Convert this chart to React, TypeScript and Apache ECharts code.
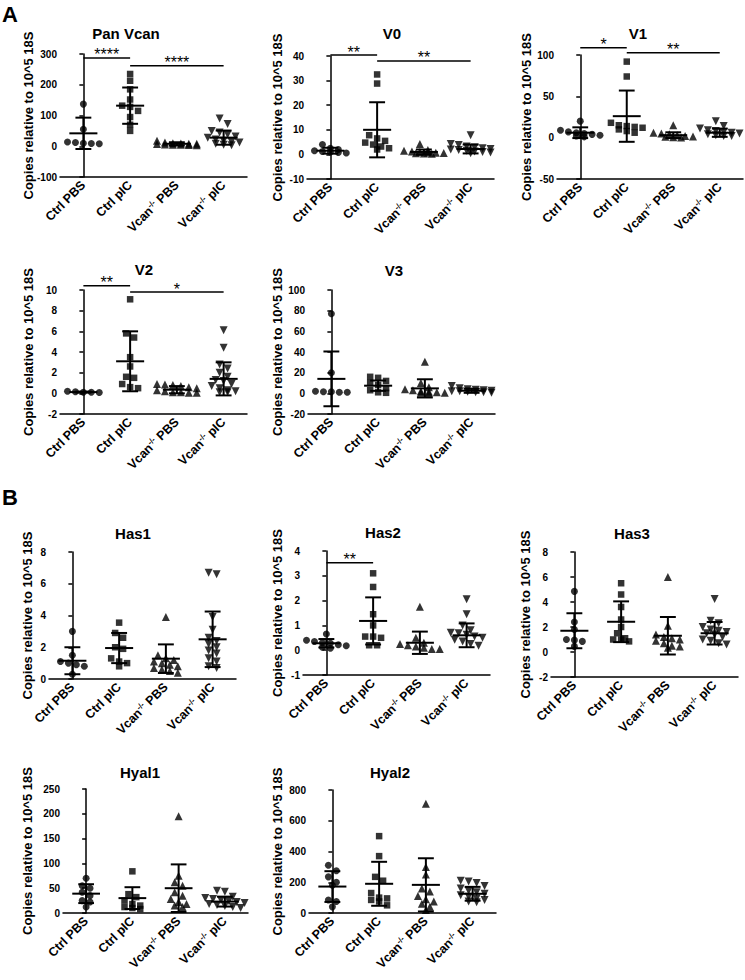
import React, { useEffect, useRef } from "react";
import * as echarts from "echarts";

const FONT = '"Liberation Sans", Arial, sans-serif';

const groups = ["Ctrl PBS", "Ctrl pIC", "Vcan-/- PBS", "Vcan-/- pIC"];

// ---------- Pan Vcan ----------
const panVcanPoints = [
  [137, 55, 14, 12, 10, 9, 8],
  [235, 213, 185, 152, 132, 128, 115, 95, 70, 50],
  [18, 12, 10, 9, 8, 8, 7, 6, 5, 5, 4, 3],
  [90, 72, 50, 45, 38, 32, 28, 22, 18, 15, 12, 8, 5, 3],
];
const panVcanMean = [42, 132, 8, 28];
const panVcanSD = [51, 59, 5, 23];
const panVcanBrackets = [
  { from: 0, to: 1, y: 287, label: "****" },
  { from: 1, to: 3, y: 262, label: "****" },
];

// ---------- V0 ----------
const v0Points = [
  [4, 2.5, 2, 1.5, 1.2, 1, 0.8, 0.6],
  [32.5, 28.8, 7.8, 6.5, 5.5, 4.8, 4, 3.2, 2.5, 2],
  [4.2, 1.8, 1.5, 1.2, 1, 0.8, 0.7, 0.6, 0.5, 0.4, 0.3],
  [7.8, 4.2, 3.8, 3.2, 2.8, 2.5, 2.2, 2, 1.8, 1.5, 1.2, 1, 0.8, 0.5],
];
const v0Mean = [1.5, 10, 1, 2.2];
const v0SD = [1.2, 11.2, 1, 1.8];
const v0Brackets = [
  { from: 0, to: 1, y: 40.4, label: "**" },
  { from: 1, to: 3, y: 38, label: "**" },
];

// ---------- V1 ----------
const v1Points = [
  [20, 9, 7, 6, 5, 4, 3, 2, 1],
  [92, 74, 18, 15, 14, 13, 12, 10, 8, 6],
  [15, 6, 5, 4, 3, 2, 1.5, 1, 0.5, 0.3],
  [20, 14, 11, 9, 8, 7, 6, 5, 4, 3, 2, 2],
];
const v1Mean = [6, 26, 3, 6];
const v1SD = [6.5, 31, 3.5, 5];
const v1Brackets = [
  { from: 0, to: 1, y: 108.9, label: "*" },
  { from: 1, to: 3, y: 102.8, label: "**" },
];

// ---------- V2 ----------
const v2Points = [
  [0.2, 0.15, 0.1, 0.1, 0.08],
  [9.1, 5.8, 5.4, 3.5, 2.6, 1.6, 1.5, 0.9, 0.6, 0.5],
  [0.9, 0.85, 0.8, 0.7, 0.6, 0.5, 0.3, 0.2, 0.1, 0.05, 0.05, 0.1],
  [6.1, 4.4, 2.8, 2.4, 2.0, 1.6, 1.3, 1.2, 0.9, 0.7, 0.5, 0.3, 0.2, 0.1, 0.1],
];
const v2Mean = [0.12, 3.1, 0.35, 1.4];
const v2SD = [0.05, 2.9, 0.35, 1.6];
const v2Brackets = [
  { from: 0, to: 1, y: 10.42, label: "**" },
  { from: 1, to: 3, y: 9.8, label: "*" },
];

// ---------- V3 ----------
const v3Points = [
  [77, 20, 1.5, 1.5, 1, 1, 2],
  [16, 15, 12, 10, 8, 5, 3, 1, 0.5],
  [30.5, 10, 6, 4, 3, 2, 1.5, 1, 0.5, 0.5, 0.2],
  [7, 5, 4, 3.5, 3, 2.5, 2, 2, 1.5, 1, 1, 0.5],
];
const v3Mean = [14, 7.4, 4.8, 2.5];
const v3SD = [26.5, 5, 8.8, 2];

// ---------- Has1 ----------
const has1Points = [
  [3.0, 1.5, 1.1, 1.0, 0.9, 0.8, 0.3],
  [3.55, 2.9, 2.6, 2.0, 1.9, 1.3, 1.1, 1.0, 0.8],
  [3.9, 1.5, 1.3, 1.2, 1.1, 1.0, 0.9, 0.8, 0.7, 0.6, 0.5, 0.4],
  [6.7, 6.6, 3.9, 3.1, 2.6, 2.4, 2.2, 2.0, 1.8, 1.6, 1.3, 1.1, 0.8, 0.7],
];
const has1Mean = [1.15, 1.95, 1.28, 2.5];
const has1SD = [0.85, 0.95, 0.9, 1.75];

// ---------- Has2 ----------
const has2Points = [
  [0.65, 0.4, 0.35, 0.3, 0.28, 0.22, 0.18, 0.12, 0.08],
  [3.1, 2.55, 1.45, 1.0, 0.55, 0.55, 0.5, 0.2, 0.2],
  [1.75, 0.5, 0.3, 0.25, 0.2, 0.15, 0.1, 0.05, 0.05],
  [2.05, 1.45, 1.0, 0.8, 0.7, 0.68, 0.62, 0.55, 0.5, 0.42, 0.35, 0.25, 0.18],
];
const has2Mean = [0.28, 1.18, 0.3, 0.6];
const has2SD = [0.17, 0.95, 0.45, 0.48];
const has2Brackets = [{ from: 0, to: 1, y: 3.53, label: "**" }];

// ---------- Has3 ----------
const has3Points = [
  [4.85, 2.4, 1.8, 1.0, 0.95, 0.85, 0.45],
  [5.5, 4.6, 3.6, 2.6, 2.0, 1.5, 1.1, 1.0, 1.0, 0.85],
  [6.0, 2.1, 1.4, 1.2, 1.1, 1.0, 0.9, 0.7, 0.5, 0.45, 0.35],
  [4.25, 2.5, 2.3, 2.0, 1.8, 1.7, 1.6, 1.5, 1.4, 1.2, 1.0, 0.9, 0.7, 0.6],
];
const has3Mean = [1.7, 2.42, 1.3, 1.5];
const has3SD = [1.4, 1.63, 1.5, 0.9];

// ---------- Hyal1 ----------
const hyal1Points = [
  [70, 55, 50, 42, 35, 25, 22, 12],
  [84, 38, 32, 25, 18, 15, 12, 10, 8],
  [195, 75, 62, 55, 42, 35, 28, 22, 18, 15, 12],
  [45, 43, 33, 30, 28, 26, 24, 22, 20, 18, 16, 14, 12, 10],
];
const hyal1Mean = [39, 30, 50, 23];
const hyal1SD = [19, 22, 48, 10];

// ---------- Hyal2 ----------
const hyal2Points = [
  [310, 275, 235, 200, 180, 85, 75, 40],
  [500, 370, 235, 210, 130, 100, 95, 85, 75, 50],
  [710, 300, 250, 160, 140, 110, 90, 75, 60, 40, 20],
  [210, 205, 195, 175, 160, 145, 135, 125, 115, 105, 95, 85, 75, 70],
];
const hyal2Mean = [172, 190, 183, 125];
const hyal2SD = [100, 143, 173, 45];

// y-axis ranges [min, max, interval]
const panVcanAxis = [-100, 300, 100];
const v0Axis = [-10, 40, 10];
const v1Axis = [-50, 100, 50];
const v2Axis = [-2, 10, 2];
const v3Axis = [-20, 100, 20];
const has1Axis = [0, 8, 2];
const has2Axis = [-1, 4, 1];
const has3Axis = [-2, 8, 2];
const hyal1Axis = [0, 250, 50];
const hyal2Axis = [0, 800, 200];

const yName = "Copies relative to 10^5 18S";

type Panel = {
  title: string;
  points: number[][];
  mean: number[];
  sd: number[];
  axis: number[];
  brackets: { from: number; to: number; y: number; label: string }[];
  left: number; top: number; width: number; height: number;
  titleX: number; titleY: number; yNameX: number;
};

const panels: Panel[] = [
  { title: "Pan Vcan", points: panVcanPoints, mean: panVcanMean, sd: panVcanSD, axis: panVcanAxis, brackets: panVcanBrackets,
    left: 60, top: 54, width: 187, height: 123, titleX: 126, titleY: 33, yNameX: 28 },
  { title: "V0", points: v0Points, mean: v0Mean, sd: v0SD, axis: v0Axis, brackets: v0Brackets,
    left: 307, top: 56, width: 187, height: 123, titleX: 392, titleY: 33, yNameX: 277 },
  { title: "V1", points: v1Points, mean: v1Mean, sd: v1SD, axis: v1Axis, brackets: v1Brackets,
    left: 557, top: 55, width: 186, height: 124, titleX: 638, titleY: 33, yNameX: 526 },
  { title: "V2", points: v2Points, mean: v2Mean, sd: v2SD, axis: v2Axis, brackets: v2Brackets,
    left: 60, top: 290, width: 187, height: 124, titleX: 144, titleY: 269, yNameX: 28 },
  { title: "V3", points: v3Points, mean: v3Mean, sd: v3SD, axis: v3Axis, brackets: [],
    left: 308, top: 290, width: 187, height: 124, titleX: 394, titleY: 270, yNameX: 277 },
  { title: "Has1", points: has1Points, mean: has1Mean, sd: has1SD, axis: has1Axis, brackets: [],
    left: 49, top: 552, width: 187, height: 127, titleX: 133, titleY: 533, yNameX: 27 },
  { title: "Has2", points: has2Points, mean: has2Mean, sd: has2SD, axis: has2Axis, brackets: has2Brackets,
    left: 303, top: 551, width: 187, height: 124, titleX: 383, titleY: 532, yNameX: 277 },
  { title: "Has3", points: has3Points, mean: has3Mean, sd: has3SD, axis: has3Axis, brackets: [],
    left: 551, top: 552, width: 187, height: 125, titleX: 632, titleY: 533, yNameX: 525 },
  { title: "Hyal1", points: hyal1Points, mean: hyal1Mean, sd: hyal1SD, axis: hyal1Axis, brackets: [],
    left: 63, top: 789, width: 185, height: 124, titleX: 140, titleY: 772, yNameX: 27 },
  { title: "Hyal2", points: hyal2Points, mean: hyal2Mean, sd: hyal2SD, axis: hyal2Axis, brackets: [],
    left: 309, top: 790, width: 187, height: 123, titleX: 390, titleY: 772, yNameX: 277 },
];

const symbols = ["circle", "rect", "triangle", "triangle"];
const symbolRot = [0, 0, 0, 180];
const symbolSizes = [7, 6.5, 8, 8];

// spread points horizontally like a column scatter (rows of close values)
function swarm(values: number[], gi: number, range: number, plotH: number) {
  const thr = (6 * range) / plotH;
  const sorted = [...values].sort((a, b) => b - a);
  const rows: number[][] = [];
  let cur: number[] = [];
  for (const v of sorted) {
    if (cur.length && (cur[0] - v > thr || cur.length >= 6)) {
      rows.push(cur);
      cur = [];
    }
    cur.push(v);
  }
  if (cur.length) rows.push(cur);
  const out: number[][] = [];
  rows.forEach((r) =>
    r.forEach((v, k) => out.push([gi + (k - (r.length - 1) / 2) * 0.17, v]))
  );
  return out;
}

function labelFmt(v: string) {
  if (v.startsWith("Vcan-/-")) {
    const rest = v.slice(7);
    return `{a|Vcan}{s|-/-}{a|${rest}}`;
  }
  return `{a|${v}}`;
}

export default function App() {
  const ref = useRef<HTMLDivElement>(null);
  useEffect(() => {
    if (!ref.current) return;
    const chart = echarts.init(ref.current, undefined, { renderer: "svg" });
    const grid: any[] = [];
    const xAxis: any[] = [];
    const yAxis: any[] = [];
    const series: any[] = [];
    const graphic: any[] = [];

    panels.forEach((p, pi) => {
      grid.push({ left: p.left, top: p.top, width: p.width, height: p.height });
      xAxis.push({
        type: "category",
        gridIndex: pi,
        data: groups,
        boundaryGap: true,
        axisLine: { onZero: false, lineStyle: { color: "#000", width: 1.5 } },
        axisTick: { alignWithLabel: true, length: 4, lineStyle: { color: "#000", width: 1.5 } },
        axisLabel: {
          interval: 0,
          rotate: 45,
          margin: 6,
          formatter: labelFmt,
          rich: {
            a: { fontSize: 12.5, fontWeight: "bold", fontFamily: FONT, color: "#000", lineHeight: 14 },
            s: { fontSize: 8, fontWeight: "bold", fontFamily: FONT, color: "#000", verticalAlign: "top", lineHeight: 8 },
          },
        },
        splitLine: { show: false },
      });
      xAxis.push({
        type: "value",
        gridIndex: pi,
        min: -0.5,
        max: 3.5,
        show: false,
        splitLine: { show: false },
      });
      const [mn, mx, iv] = p.axis;
      yAxis.push({
        type: "value",
        gridIndex: pi,
        min: mn,
        max: mx,
        interval: iv,
        axisLine: { show: true, lineStyle: { color: "#000", width: 1.5 } },
        axisTick: { show: true, length: 4, lineStyle: { color: "#000", width: 1.5 } },
        axisLabel: { fontSize: 10, fontWeight: "bold", fontFamily: FONT, color: "#000", margin: 3 },
        splitLine: { show: false },
      });
      const range = mx - mn;
      p.points.forEach((vals, gi) => {
        series.push({
          type: "scatter",
          name: `${p.title} ${groups[gi]}`,
          xAxisIndex: pi * 2 + 1,
          yAxisIndex: pi,
          symbol: symbols[gi],
          symbolRotate: symbolRot[gi],
          symbolSize: symbolSizes[gi],
          itemStyle: { color: "#000" },
          data: swarm(vals, gi, range, p.height),
          z: 2,
          silent: true,
        });
      });
      series.push({
        type: "custom",
        xAxisIndex: pi * 2 + 1,
        yAxisIndex: pi,
        z: 3,
        silent: true,
        data: p.mean.map((m, gi) => [gi, m, p.sd[gi]]),
        renderItem: (params: any, api: any) => {
          const x = api.value(0);
          const m = api.value(1);
          const s = api.value(2);
          const top = api.coord([x, m + s]);
          const bot = api.coord([x, m - s]);
          const ml = api.coord([x - 0.3, m]);
          const mr = api.coord([x + 0.3, m]);
          const tl = api.coord([x - 0.17, m + s]);
          const tr = api.coord([x + 0.17, m + s]);
          const bl = api.coord([x - 0.17, m - s]);
          const br = api.coord([x + 0.17, m - s]);
          const st = { stroke: "#000", lineWidth: 2 };
          return {
            type: "group",
            children: [
              { type: "line", shape: { x1: top[0], y1: top[1], x2: bot[0], y2: bot[1] }, style: st },
              { type: "line", shape: { x1: ml[0], y1: ml[1], x2: mr[0], y2: mr[1] }, style: st },
              { type: "line", shape: { x1: tl[0], y1: tl[1], x2: tr[0], y2: tr[1] }, style: st },
              { type: "line", shape: { x1: bl[0], y1: bl[1], x2: br[0], y2: br[1] }, style: st },
            ],
          };
        },
      });
      if (p.brackets.length) {
        const br = p.brackets;
        series.push({
          type: "custom",
          xAxisIndex: pi * 2 + 1,
          yAxisIndex: pi,
          z: 3,
          silent: true,
          clip: false,
          data: br.map((b) => [b.from, b.to, b.y]),
          renderItem: (params: any, api: any) => {
            const b = br[params.dataIndex];
            const p1 = api.coord([b.from, b.y]);
            const p2 = api.coord([b.to, b.y]);
            return {
              type: "group",
              children: [
                { type: "line", shape: { x1: p1[0], y1: p1[1], x2: p2[0], y2: p2[1] }, style: { stroke: "#000", lineWidth: 1.5 } },
                {
                  type: "text",
                  x: (p1[0] + p2[0]) / 2,
                  y: p1[1] - 3,
                  style: { text: b.label, align: "center", verticalAlign: "middle", fill: "#000", font: `normal 16px ${FONT}` },
                },
              ],
            };
          },
        });
      }
      graphic.push({
        type: "text",
        x: p.titleX,
        y: p.titleY,
        style: { text: p.title, align: "center", verticalAlign: "middle", fill: "#000", font: `bold 15px ${FONT}` },
      });
      graphic.push({
        type: "text",
        x: p.yNameX,
        y: p.top + p.height / 2,
        rotation: Math.PI / 2,
        style: { text: yName, align: "center", verticalAlign: "middle", fill: "#000", font: `bold 13px ${FONT}` },
      });
    });

    graphic.push({ type: "text", left: 2, top: 3, style: { text: "A", fill: "#000", font: `bold 22px ${FONT}` } });
    graphic.push({ type: "text", left: 2, top: 486, style: { text: "B", fill: "#000", font: `bold 22px ${FONT}` } });

    chart.setOption({
      animation: false,
      backgroundColor: "#fff",
      grid,
      xAxis,
      yAxis,
      series,
      graphic,
    });
    return () => chart.dispose();
  }, []);
  return <div ref={ref} style={{ position: "absolute", left: 0, top: 0, width: 745, height: 980 }} />;
}
